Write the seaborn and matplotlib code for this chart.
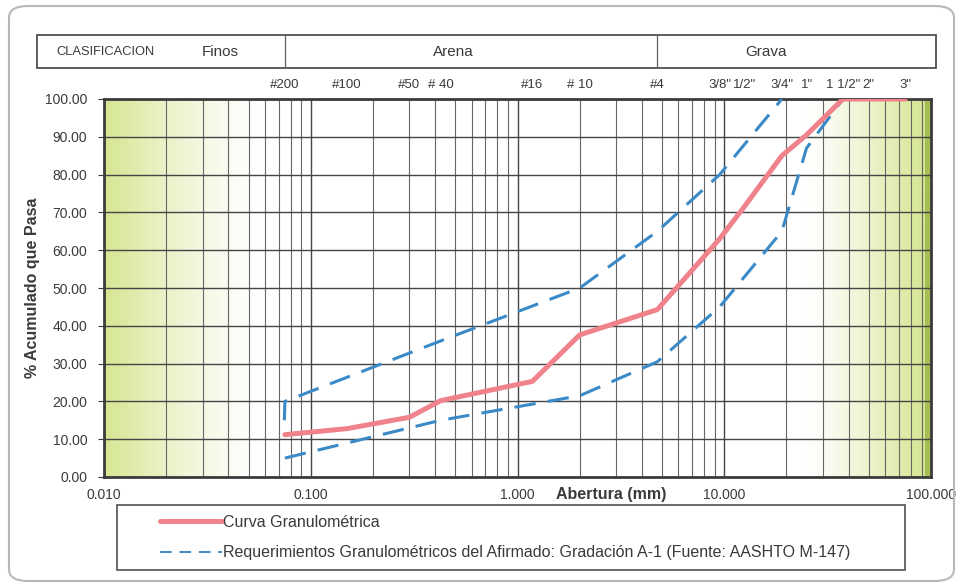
"""
Curva granulometrica vs requerimientos del afirmado (AASHTO M-147).
"""

import numpy as np
import pandas as pd
import matplotlib
matplotlib.use("Agg")
import matplotlib.pyplot as plt
import matplotlib.ticker as mticker
from matplotlib.patches import Rectangle, FancyBboxPatch
from matplotlib.lines import Line2D
from matplotlib.transforms import blended_transform_factory
import seaborn as sns

# sieve openings (mm) and their names
sieve_mm = [0.075, 0.15, 0.3, 0.425, 1.18, 2.0, 4.75, 9.5, 12.5, 19.0, 25.0, 37.5, 50.0, 75.0]
sieve_names = ["#200", "#100", "#50", "# 40", "#16", "# 10", "#4",
               '3/8"', '1/2"', '3/4"', '1"', '1 1/2"', '2"', '3"']

# grading curve (% passing)
curve_mm = [0.075, 0.15, 0.3, 0.425, 1.18, 2.0, 4.75, 9.5, 12.5, 19.0, 25.0, 37.5, 50.0, 75.0]
curve_pass = [11.2, 12.8, 15.8, 20.2, 25.3, 37.6, 44.3, 63.0, 71.5, 85.0, 90.5, 100.0, 100.0, 100.0]

# A-1 gradation band
upper_mm = [0.0745, 0.075, 0.425, 2.0, 4.75, 9.5, 19.0]
upper_pass = [15.0, 20.0, 36.0, 50.0, 65.0, 80.0, 100.0]
lower_mm = [0.075, 0.425, 2.0, 4.75, 9.5, 19.0, 25.0, 37.5]
lower_pass = [5.0, 15.0, 21.5, 30.5, 45.0, 65.0, 87.0, 100.0]

class_labels = ["CLASIFICACION", "Finos", "Arena", "Grava"]
class_limits_mm = [0.075, 4.75]

curve_df = pd.DataFrame({"Abertura": curve_mm, "Pasa": curve_pass})
upper_df = pd.DataFrame({"Abertura": upper_mm, "Pasa": upper_pass})
lower_df = pd.DataFrame({"Abertura": lower_mm, "Pasa": lower_pass})

sns.set_style("white")
plt.rcParams["font.family"] = ["Liberation Sans", "DejaVu Sans"]

red = "#f0828c"
blue = "#3b8ac8"
txt = "#3a3a3a"

fig = plt.figure(figsize=(9.61, 5.87), dpi=100)
ax = fig.add_axes([104 / 961, 1 - 477 / 587, 827 / 961, 378 / 587])
ax.set_xscale("log")

# green shaded ends (fines on the left, coarse on the right)
t = np.linspace(0, 1, 827)
left_end = (np.log10(class_limits_mm[0]) + 2) / 4
right_start = (np.log10(25.0) + 2) / 4
alpha = np.zeros_like(t)
m = t < left_end
alpha[m] = 0.75 * np.clip(1 - t[m] / (0.85 * left_end), 0, 1) ** 1.3
m = t > right_start
alpha[m] = 0.8 * ((t[m] - right_start) / (1 - right_start)) ** 1.2
alpha[-6:] = 1.0
base = np.array([200, 222, 110]) / 255
img = np.ones((1, len(t), 3))
img[0] = 1 - alpha[:, None] * (1 - base)
img[0, -6:] = np.array([165, 190, 85]) / 255
ax.imshow(img, extent=[0, 1, 0, 1], transform=ax.transAxes, aspect="auto",
          zorder=0, interpolation="bilinear")
ax.set_xlim(0.01, 100)
ax.set_ylim(0, 100)

# grid
ax.yaxis.set_major_locator(mticker.MultipleLocator(10))
ax.xaxis.set_minor_locator(mticker.LogLocator(base=10, subs=np.arange(2, 10)))
ax.grid(True, which="major", color="#454545", lw=1.0, zorder=1)
ax.xaxis.grid(True, which="minor", color="#666666", lw=0.8, zorder=1)
ax.set_axisbelow(True)

sns.lineplot(data=upper_df, x="Abertura", y="Pasa", ax=ax, color=blue, lw=2.2,
             estimator=None, sort=False, linestyle=(0, (7, 4)), zorder=3)
sns.lineplot(data=lower_df, x="Abertura", y="Pasa", ax=ax, color=blue, lw=2.2,
             estimator=None, sort=False, linestyle=(0, (7, 4)), zorder=3)
sns.lineplot(data=curve_df, x="Abertura", y="Pasa", ax=ax, color=red, lw=3.6,
             estimator=None, sort=False, zorder=4)

ax.xaxis.set_major_formatter(mticker.FuncFormatter(lambda v, p: f"{v:.3f}"))
ax.yaxis.set_major_formatter(mticker.FuncFormatter(lambda v, p: f"{v:.2f}"))
ax.tick_params(axis="both", which="major", labelsize=10, colors=txt)
ax.tick_params(axis="x", which="both", length=0, pad=8)
ax.tick_params(axis="y", which="major", left=True, length=4, pad=8)
ax.set_ylabel("% Acumulado que Pasa", fontsize=11.5, fontweight="bold", color=txt)
ax.yaxis.set_label_coords(-0.077, 0.5)
ax.set_xlabel("Abertura (mm)", fontsize=11.5, fontweight="bold", color=txt)
ax.xaxis.set_label_coords(0.613, -0.027)
ax.xaxis.label.set_va("top")
for s in ax.spines.values():
    s.set_color("#3c3c3c")
    s.set_linewidth(2)

# sieve names above the plot
top = blended_transform_factory(ax.transData, ax.transAxes)
for mm, name in zip(sieve_mm, sieve_names):
    ax.text(mm, 1.022, name, transform=top, ha="center", va="bottom",
            fontsize=9.5, color=txt)

# classification strip
fig.patches.append(Rectangle((37 / 961, 1 - 68 / 587), 899 / 961, 33 / 587,
                             transform=fig.transFigure, fill=False,
                             edgecolor="#505050", lw=1.3))
strip = blended_transform_factory(ax.transData, fig.transFigure)
for lim in class_limits_mm:
    fig.add_artist(Line2D([lim, lim], [1 - 68 / 587, 1 - 35 / 587],
                          transform=strip, color="#606060", lw=0.9))
ylab = 1 - 52 / 587
fig.text(105 / 961, ylab, class_labels[0], ha="center", va="center", fontsize=9.3, color=txt)
fig.text(220 / 961, ylab, class_labels[1], ha="center", va="center", fontsize=11, color=txt)
fig.text(453 / 961, ylab, class_labels[2], ha="center", va="center", fontsize=11, color=txt)
fig.text(766 / 961, ylab, class_labels[3], ha="center", va="center", fontsize=11, color=txt)

# outer rounded border
fig.patches.append(FancyBboxPatch((9 / 961, 6 / 587), 945 / 961, 575 / 587,
                                  boxstyle="round,pad=0,rounding_size=0.02",
                                  transform=fig.transFigure, fill=False,
                                  edgecolor="#b8b8b8", lw=1.5))

# legend box + entries
fig.patches.append(Rectangle((117 / 961, 1 - 570 / 587), 788 / 961, 65 / 587,
                             transform=fig.transFigure, fill=False,
                             edgecolor="#505050", lw=1.2))
handles = [Line2D([], [], color=red, lw=3.6),
           Line2D([], [], color=blue, lw=1.4, linestyle=(0, (6, 4)))]
labels = ["Curva Granulométrica",
          "Requerimientos Granulométricos del Afirmado: Gradación A-1 (Fuente: AASHTO M-147)"]
leg = fig.legend(handles, labels, loc="upper left",
                 bbox_to_anchor=(160 / 961, 1 - 515 / 587),
                 frameon=False, fontsize=11.5, handlelength=3.9, handletextpad=0.05,
                 borderpad=0, labelspacing=0.95, borderaxespad=0)
for tx in leg.get_texts():
    tx.set_color(txt)

fig.savefig("out.png", dpi=100)
